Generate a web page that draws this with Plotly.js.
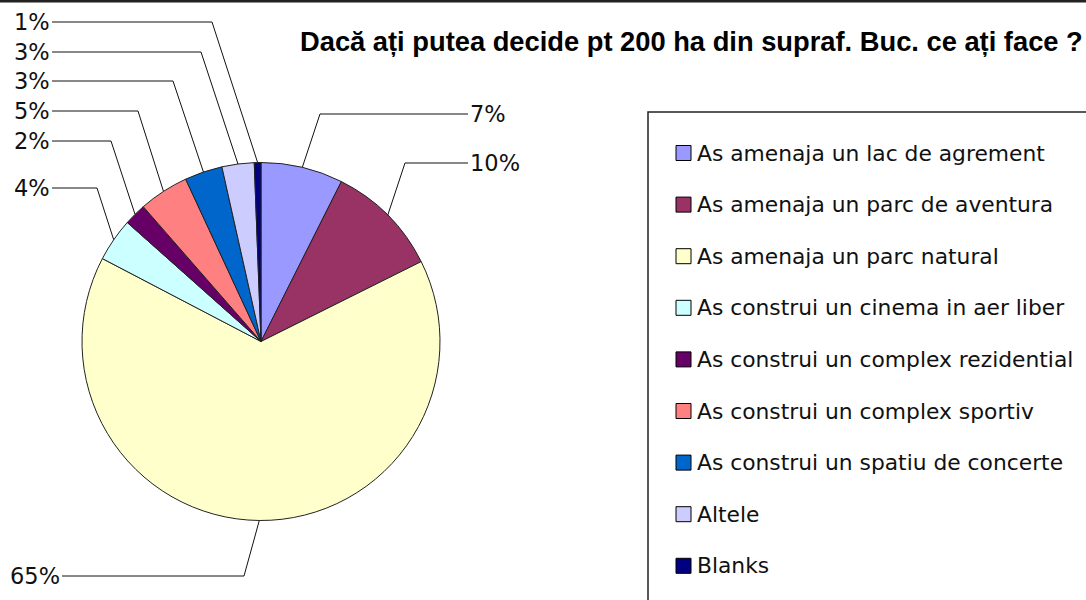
<!DOCTYPE html>
<html>
<head>
<meta charset="utf-8">
<script src="https://cdn.plot.ly/plotly-3.0.1.min.js"></script>
<style>html,body{margin:0;padding:0;background:#fff;}#chart{width:1086px;height:600px;}</style>
</head>
<body>
<div id="chart"></div>
<script>
// ---- data ----
const categories = [
  "As amenaja un lac de agrement",
  "As amenaja un parc de aventura",
  "As amenaja un parc natural",
  "As construi un cinema in aer liber",
  "As construi un complex rezidential",
  "As construi un complex sportiv",
  "As construi un spatiu de concerte",
  "Altele",
  "Blanks"
];
const values = [7.4, 10.2, 64.9, 3.9, 2.0, 4.5, 3.4, 2.9, 0.6];
const colors = ["#9999FF", "#993366", "#FFFFCC", "#CCFFFF", "#660066", "#FF8080", "#0066CC", "#CCCCFF", "#000080"];
const chartTitle = "Dacă ați putea decide pt 200 ha din supraf. Buc. ce ați face ?";

// ---- layout config (pixels) ----
const W = 1086, H = 600;
const cx = 261, cy = 341.5, R = 179;
// label anchor (lx, ly), side, elbow x
const labelCfg = [
  {lx: 468, ly: 114, side: "right", ex: 320},
  {lx: 468, ly: 163, side: "right", ex: 405},
  {lx: 62,  ly: 576, side: "left",  ex: 244},
  {lx: 52,  ly: 188, side: "left",  ex: 97},
  {lx: 52,  ly: 141, side: "left",  ex: 111},
  {lx: 52,  ly: 111, side: "left",  ex: 138},
  {lx: 52,  ly: 81,  side: "left",  ex: 173},
  {lx: 52,  ly: 52,  side: "left",  ex: 201},
  {lx: 52,  ly: 22,  side: "left",  ex: 212}
];
const legendLeft = 648, legendTop = 112, legendFirstY = 153, legendStep = 51.6;

const px = x => x / W;
const py = y => 1 - y / H;

const total = values.reduce((a, b) => a + b, 0);
const shapes = [];
const annotations = [];

// top frame line
shapes.push({type: "line", xref: "paper", yref: "paper", x0: 0, x1: 1, y0: py(1), y1: py(1), line: {color: "#222", width: 3}});

// leader lines and percentage labels
let cum = 0;
values.forEach((v, i) => {
  const mid = (cum + v / 2) / total * 2 * Math.PI; // clockwise from 12 o'clock
  cum += v;
  const exX = cx + R * Math.sin(mid);
  const exY = cy - R * Math.cos(mid);
  const c = labelCfg[i];
  const path = `M ${px(c.lx)},${py(c.ly)} L ${px(c.ex)},${py(c.ly)} L ${px(exX)},${py(exY)}`;
  shapes.push({type: "path", xref: "paper", yref: "paper", path: path, line: {color: "#111", width: 1}});
  const pct = Math.round(v / total * 100) + "%";
  annotations.push({
    xref: "paper", yref: "paper", x: px(c.lx), y: py(c.ly),
    xanchor: c.side === "left" ? "right" : "left", yanchor: "middle",
    text: pct, showarrow: false,
    font: {family: "DejaVu Sans, Liberation Sans, Arial", size: 22.5, color: "#111"}
  });
});

// legend box
shapes.push({type: "rect", xref: "paper", yref: "paper", x0: px(legendLeft), x1: px(W + 10), y0: py(H + 10), y1: py(legendTop), line: {color: "#222", width: 1.5}, fillcolor: "rgba(0,0,0,0)"});
categories.forEach((cat, i) => {
  const y = legendFirstY + i * legendStep;
  shapes.push({type: "rect", xref: "paper", yref: "paper", x0: px(676), x1: px(691), y0: py(y + 7.5), y1: py(y - 7.5), line: {color: "#000", width: 1}, fillcolor: colors[i]});
  annotations.push({
    xref: "paper", yref: "paper", x: px(695), y: py(y), xanchor: "left", yanchor: "middle",
    text: cat, showarrow: false,
    font: {family: "DejaVu Sans, Liberation Sans, Arial", size: 21.8, color: "#111"}
  });
});

const trace = {
  type: "pie",
  labels: categories,
  values: values,
  sort: false,
  direction: "clockwise",
  rotation: 0,
  textinfo: "none",
  hoverinfo: "label+percent",
  marker: {colors: colors, line: {color: "#222", width: 1}},
  domain: {x: [px(cx - R), px(cx + R)], y: [py(cy + R), py(cy - R)]},
  showlegend: false
};

const layout = {
  width: W, height: H,
  margin: {l: 0, r: 0, t: 0, b: 0},
  paper_bgcolor: "#fff",
  title: {
    text: "<b>" + chartTitle + "</b>",
    x: px(300), xanchor: "left", xref: "paper",
    y: py(41), yanchor: "middle", yref: "paper",
    font: {family: "Liberation Sans, Arial", size: 27.3, color: "#000"}
  },
  shapes: shapes,
  annotations: annotations,
  showlegend: false
};

Plotly.newPlot("chart", [trace], layout, {displayModeBar: false, staticPlot: true});
</script>
</body>
</html>
